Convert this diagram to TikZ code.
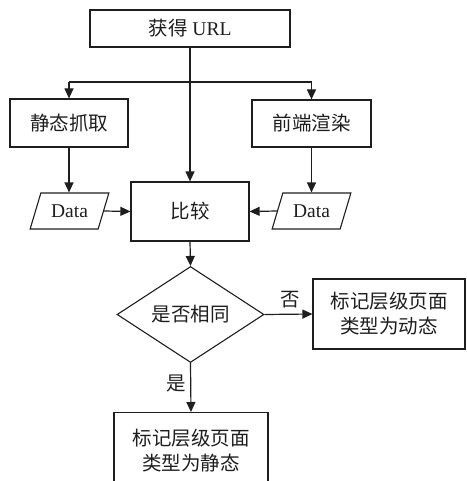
\documentclass[tikz,border=0pt]{standalone}
\usepackage{fontspec}
\setmainfont{Liberation Serif}
\newfontfamily\cjkf{Noto Sans CJK SC}
\newcommand\cjk{\cjkf\fontsize{19.5}{25}\selectfont}
\usetikzlibrary{shapes.geometric,arrows.meta}
\definecolor{ink}{HTML}{1E1E1E}
\tikzset{
  every node/.style={text=ink, font=\fontsize{19.5}{25}\selectfont},
  boxnode/.style={draw=ink, line width=1.2pt, rectangle, inner sep=0pt, align=center},
  datanode/.style={draw=ink, line width=1.1pt, trapezium, trapezium left angle=62, trapezium right angle=118,
     trapezium stretches=true, minimum width=79pt, minimum height=36pt, inner sep=0pt},
  decnode/.style={draw=ink, line width=1.1pt, diamond, minimum width=147pt, minimum height=87pt, inner sep=0pt},
  conn/.style={draw=ink, line width=1.2pt},
  arr/.style={conn, -{Triangle[length=10pt,width=9pt]}},
  lbl/.style={inner sep=0pt}
}
\begin{document}
\begin{tikzpicture}[x=1pt,y=-1pt]
\useasboundingbox (0,0) rectangle (466,481);
\node[boxnode, minimum width=200pt, minimum height=37pt] (top) at (190,28.5) {{\cjk 获得} URL};
\node[boxnode, minimum width=118pt, minimum height=48pt] (ls) at (69,123) {\cjk 静态抓取};
\node[boxnode, minimum width=119pt, minimum height=47pt] (rs) at (311.5,123.5) {\cjk 前端渲染};
\node[boxnode, minimum width=118pt, minimum height=59pt] (cmp) at (190,211.5) {\cjk 比较};
\node[datanode] (dl) at (69.5,211) {Data};
\node[datanode] (dr) at (311.5,211) {Data};
\node[decnode] (dec) at (190.5,314.5) {\cjk 是否相同};
\node[boxnode, minimum width=152pt, minimum height=70pt] (dyn) at (389,314) {\cjk 标记层级页面\\\cjk 类型为动态};
\node[boxnode, minimum width=154pt, minimum height=75pt, anchor=north] (sta) at (191,412) {\cjk 标记层级页面\\\cjk 类型为静态};
\coordinate (jl) at (69,82);
\coordinate (jr) at (311.5,82);
\draw[arr] (top.south) -- (cmp.north);
\draw[conn] (jl) -- (jr);
\draw[arr] (jl) -- (ls.north);
\draw[arr] (jr) -- (rs.north);
\draw[arr] (ls.south) -- (ls.south |- dl.north);
\draw[arr] (rs.south) -- (rs.south |- dr.north);
\draw[arr] (dl.east) -- (cmp.west);
\draw[arr] (dr.west) -- (cmp.east);
\draw[arr] (cmp.south) -- (dec.north);
\draw[arr] (dec.east) -- (dyn.west);
\draw[arr] (dec.south) -- (sta.north);
\node[lbl] (no) at (290,300) {\cjk 否};
\node[lbl] (yes) at (176,383) {\cjk 是};
\end{tikzpicture}
\end{document}
